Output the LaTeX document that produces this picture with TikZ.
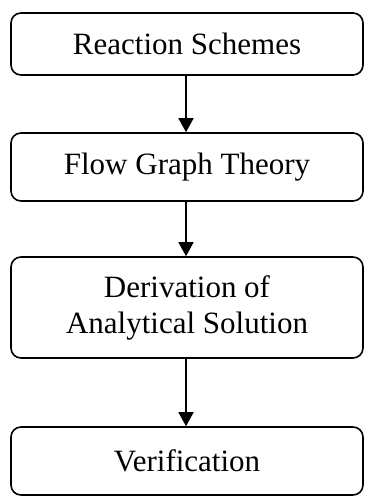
\documentclass[tikz,border=0pt]{standalone}
\usepackage{fontspec}
\setmainfont{Liberation Serif}
\usetikzlibrary{arrows.meta}
\begin{document}
\begin{tikzpicture}[x=1pt,y=-1pt,
  stepbox/.style={draw, line width=1.6pt, rounded corners=10pt, minimum width=352pt,
    inner sep=0pt, font=\fontsize{31}{36}\selectfont, align=center},
  flow/.style={line width=1.6pt, -{Triangle[length=14pt,width=15pt]}}]
\useasboundingbox (0,0) rectangle (364,497);
\node[stepbox, minimum height=62pt] (a) at (187,44) {Reaction Schemes};
\node[stepbox, minimum height=68pt] (b) at (187,167) {Flow Graph Theory};
\node[stepbox, minimum height=101pt] (c) at (187,307.5) {Derivation of\\Analytical Solution};
\node[stepbox, minimum height=68pt] (d) at (187,461) {Verification};
\draw[flow] (a.south -| 186,0) -- (b.north -| 186,0);
\draw[flow] (b.south -| 186,0) -- (c.north -| 186,0);
\draw[flow] (c.south -| 186,0) -- (d.north -| 186,0);
\end{tikzpicture}
\end{document}
